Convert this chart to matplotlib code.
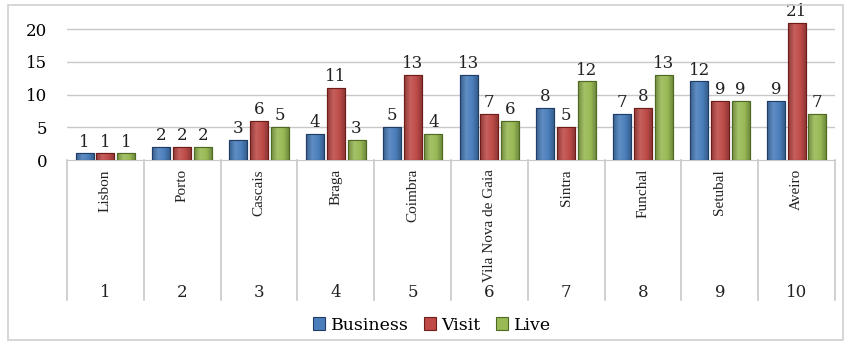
import matplotlib
matplotlib.use("Agg")
import matplotlib.pyplot as plt
from matplotlib.patches import Rectangle
from matplotlib.colors import LinearSegmentedColormap, to_rgb
import numpy as np

cities = ["Lisbon", "Porto", "Cascais", "Braga", "Coimbra", "Vila Nova de Gaia",
          "Sintra", "Funchal", "Setubal", "Aveiro"]
ranks = ["1", "2", "3", "4", "5", "6", "7", "8", "9", "10"]
business = [1, 2, 3, 4, 5, 13, 8, 7, 12, 9]
visit = [1, 2, 6, 11, 13, 7, 5, 8, 9, 21]
live = [1, 2, 5, 3, 4, 6, 12, 13, 9, 7]
series_names = ["Business", "Visit", "Live"]
y_ticks = [0, 5, 10, 15, 20]

colors = ["#4a7ebb", "#be4b48", "#98b954"]
edges = ["#1f3d66", "#6e1c1a", "#4f6a22"]


def shade(c, f):
    r = np.array(to_rgb(c))
    if f >= 0:
        return tuple(r + (1 - r) * f)
    return tuple(r * (1 + f))


W, H = 851, 345
fig = plt.figure(figsize=(W / 100, H / 100), dpi=100)
fig.patches.append(Rectangle((8 / W, 5 / H), 835 / W, 335 / H, transform=fig.transFigure,
                             fill=False, edgecolor="#d0d0d0", linewidth=1.2))

left, right, top, bot = 67, 835, 16, 160
ax = fig.add_axes([left / W, 1 - bot / H, (right - left) / W, (bot - top) / H])

x = np.arange(len(cities))
bw = 0.235
off = 0.27
serif = "DejaVu Serif"
grad = np.linspace(0, 1, 64).reshape(1, -1)
for i, (vals, c, e) in enumerate(zip([business, visit, live], colors, edges)):
    pos = x + (i - 1) * off
    cmap = LinearSegmentedColormap.from_list(
        "g%d" % i, [shade(c, -0.25), shade(c, 0.12), c, shade(c, -0.3)])
    bars = ax.bar(pos, vals, width=bw, color=c, edgecolor=e, linewidth=0.8, zorder=3,
                  label=series_names[i])
    for b in bars:
        bx, by = b.get_x(), b.get_y()
        im = ax.imshow(grad, cmap=cmap, aspect="auto", zorder=3.5,
                       extent=(bx, bx + b.get_width(), by, by + b.get_height()))
        im.set_clip_path(b)
        ax.add_patch(Rectangle((bx, by), b.get_width(), b.get_height(), fill=False,
                               edgecolor=e, linewidth=0.8, zorder=3.6))
    for p, v in zip(pos, vals):
        ax.text(p, v + 0.45, str(v), ha="center", va="bottom", fontsize=12,
                family=serif, color="#222222", zorder=4)
ax.set_xlim(-0.5, len(cities) - 0.5)
ax.set_ylim(0, 22)

for yt in y_ticks:
    if yt > 0:
        ax.axhline(yt, color="#c8c8c8", linewidth=1, zorder=1)
ax.set_yticks(y_ticks)
ax.set_yticklabels([str(t) for t in y_ticks], family=serif, fontsize=12)
ax.tick_params(axis="y", length=0, pad=14)
ax.set_xticks([])
for s in ["top", "right", "left"]:
    ax.spines[s].set_visible(False)
ax.spines["bottom"].set_color("#c8c8c8")

trans = ax.get_xaxis_transform()
ax_h = bot - top
ybottom = -(300 - bot) / ax_h
for b in np.arange(-0.5, len(cities), 1.0):
    ax.plot([b, b], [0, ybottom], transform=trans, color="#c8c8c8", linewidth=1.2,
            clip_on=False)
for xi, city, r in zip(x, cities, ranks):
    ax.text(xi, -(169 - bot) / ax_h, city, rotation=90, ha="center", va="top",
            transform=trans, family="Liberation Serif", fontsize=11, color="#222222")
    ax.text(xi, -(292 - bot) / ax_h, r, ha="center", va="center", transform=trans,
            family=serif, fontsize=12, color="#222222")

handles, labels = ax.get_legend_handles_labels()
leg = fig.legend(handles, labels, loc="center", bbox_to_anchor=(432 / W, 1 - 325 / H),
                 ncol=3, frameon=False,
                 prop={"family": serif, "size": 12.5}, handlelength=0.7, handleheight=0.7,
                 handletextpad=0.3, columnspacing=0.9)

fig.savefig("out.png", dpi=100)
